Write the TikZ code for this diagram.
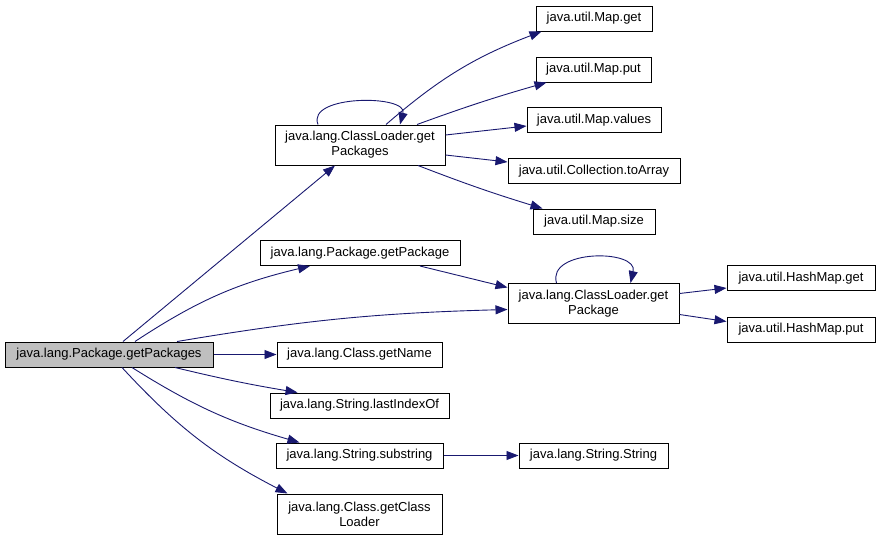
\documentclass[tikz,border=0pt]{standalone}
\usepackage{fontspec}
\setmainfont{Liberation Sans}
\usetikzlibrary{arrows.meta}
\definecolor{edgeblue}{RGB}{25,25,112}
\definecolor{mainfill}{RGB}{191,191,191}

\begin{document}
\begin{tikzpicture}[x=1pt, y=-1pt,
  every node/.style = {shape=rectangle, draw, fill=white,
    align=center, line width=1pt, inner sep=0pt,
    font=\fontsize{13}{15}\selectfont}]
    \tikzstyle{one}=[minimum height=25pt]
    \tikzstyle{two}=[minimum height=40pt]
    \tikzstyle{call}=[draw=edgeblue, line width=0.9pt,
      -{Triangle[length=12pt,width=9pt]}]
  \useasboundingbox (0,0) rectangle (880,541);
  % functions
  \node[one, fill=mainfill, minimum width=208pt] (Main) at (109,354.5) {java.lang.Package.getPackages};
  \node[two, minimum width=170pt] (ClPkgs) at (360,145) {java.lang.ClassLoader.get\\Packages};
  \node[one, minimum width=116pt] (MapGet) at (594,18.5) {java.util.Map.get};
  \node[one, minimum width=115pt] (MapPut) at (593.5,69.5) {java.util.Map.put};
  \node[one, minimum width=134pt] (MapValues) at (594,120) {java.util.Map.values};
  \node[one, minimum width=172pt] (ToArray) at (594,171) {java.util.Collection.toArray};
  \node[one, minimum width=122pt] (MapSize) at (594,221.5) {java.util.Map.size};
  \node[one, minimum width=200pt] (PkgGet) at (360,253) {java.lang.Package.getPackage};
  \node[two, minimum width=171pt] (ClPkg) at (593.5,303.5) {java.lang.ClassLoader.get\\Package};
  \node[one, minimum width=148pt] (HashGet) at (801,278) {java.util.HashMap.get};
  \node[one, minimum width=148pt] (HashPut) at (801,329.5) {java.util.HashMap.put};
  \node[one, minimum width=165pt] (GetName) at (359.5,354.5) {java.lang.Class.getName};
  \node[one, minimum width=179pt] (LastIdx) at (359.5,405.5) {java.lang.String.lastIndexOf};
  \node[one, minimum width=167pt] (SubStr) at (359.5,455.5) {java.lang.String.substring};
  \node[one, minimum width=149pt] (StrStr) at (593.5,455.5) {java.lang.String.String};
  \node[two, minimum width=165pt] (GetCl) at (359.5,514) {java.lang.Class.getClass\\Loader};
  % calls
  \draw[call] ([xshift=14pt]Main.north) -- ([xshift=-25pt]ClPkgs.south);
  \draw[call] ([xshift=26pt]Main.north) to[bend left=10] ([xshift=-50pt]PkgGet.south);
  \draw[call] ([xshift=68pt]Main.north) to[bend left=4] ([yshift=-6pt]ClPkg.west);
  \draw[call] (Main.east) -- (GetName.west);
  \draw[call] ([xshift=66pt]Main.south) to[bend right=2] ([xshift=-62pt]LastIdx.north);
  \draw[call] ([xshift=23pt]Main.south) to[bend right=8] ([xshift=-60pt]SubStr.north);
  \draw[call] ([xshift=13pt]Main.south) to[bend right=10] ([xshift=-72pt]GetCl.north);
  \draw[call] ([xshift=-42pt]ClPkgs.north) .. controls +(-12,-30) and +(8,-30) .. ([xshift=40pt]ClPkgs.north);
  \draw[call] ([xshift=26pt]ClPkgs.north) to[bend left=10] ([xshift=6pt]MapGet.south west);
  \draw[call] ([xshift=57pt]ClPkgs.north) to[bend left=2] ([xshift=11pt]MapPut.south west);
  \draw[call] ([yshift=10pt]ClPkgs.east) -- ([yshift=-6pt]MapValues.west);
  \draw[call] ([yshift=-10pt]ClPkgs.east) -- ([yshift=9pt]ToArray.west);
  \draw[call] ([xshift=58pt]ClPkgs.south) to[bend right=2] ([xshift=10pt]MapSize.north west);
  \draw[call] ([xshift=60pt]PkgGet.south) -- ([yshift=16pt]ClPkg.west);
  \draw[call] ([xshift=-37pt]ClPkg.north) .. controls +(-10,-34) and +(8,-34) .. ([xshift=37pt]ClPkg.north);
  \draw[call] ([yshift=10pt]ClPkg.east) -- ([yshift=-10pt]HashGet.west);
  \draw[call] ([yshift=-11pt]ClPkg.east) -- ([yshift=8pt]HashPut.west);
  \draw[call] (SubStr.east) -- (StrStr.west);
\end{tikzpicture}
\end{document}
